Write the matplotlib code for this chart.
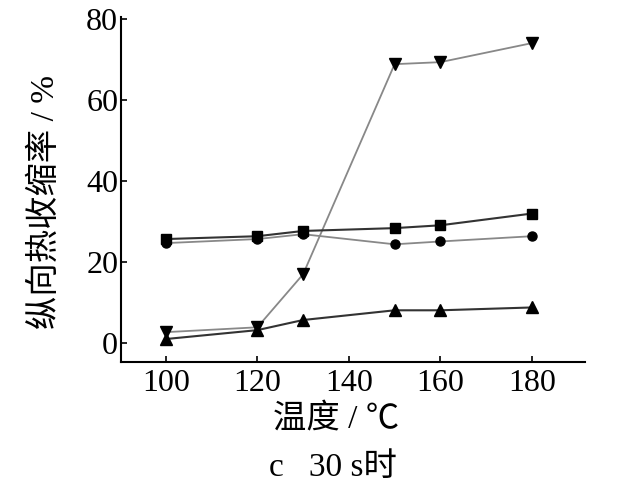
import matplotlib
matplotlib.use("Agg")
import matplotlib.pyplot as plt

plt.rcParams['font.family'] = ['Liberation Serif', 'Noto Sans CJK SC']

temps = [100, 120, 130, 150, 160, 180]
s_square = [25.7, 26.4, 27.7, 28.4, 29.1, 32.0]
s_circle = [24.7, 25.7, 26.9, 24.4, 25.1, 26.4]
s_down = [2.7, 3.9, 17.0, 68.9, 69.4, 74.1]
s_up = [1.0, 3.2, 5.7, 8.1, 8.1, 8.8]

xticks = [100, 120, 140, 160, 180]
yticks = [0, 20, 40, 60, 80]

fig = plt.figure(figsize=(6.4, 4.92), dpi=100)
ax = fig.add_axes([0.189, 0.264, 0.725, 0.701])

ax.plot(temps, s_circle, marker='o', color='#888888', mfc='black', mec='black', ms=6.5, lw=1.3)
ax.plot(temps, s_down, marker='v', color='#888888', mfc='black', mec='black', ms=8, lw=1.3)
ax.plot(temps, s_square, marker='s', color='#333333', mfc='black', mec='black', ms=6.5, lw=1.5)
ax.plot(temps, s_up, marker='^', color='#333333', mfc='black', mec='black', ms=8, lw=1.5)

ax.set_xlim(90.2, 191.6)
ax.set_ylim(-4.7, 80.5)
ax.set_xticks(xticks)
ax.set_yticks(yticks)
ax.spines['top'].set_visible(False)
ax.spines['right'].set_visible(False)
for s in ['left', 'bottom']:
    ax.spines[s].set_linewidth(1.5)
ax.tick_params(direction='in', length=4, width=1.2, labelsize=23)
ax.tick_params(axis='y', pad=2)
ax.tick_params(axis='x', pad=5)

ax.set_xlabel('温度 / ℃', fontsize=24)
ax.set_ylabel('纵向热收缩率 / %', fontsize=24)
ax.xaxis.set_label_coords(0.463, -0.12)
ax.yaxis.set_label_coords(-0.129, 0.464)
fig.text(0.52, 0.018, 'c   30 s时', fontsize=24, ha='center', va='bottom')

fig.savefig('out.png', dpi=100)
